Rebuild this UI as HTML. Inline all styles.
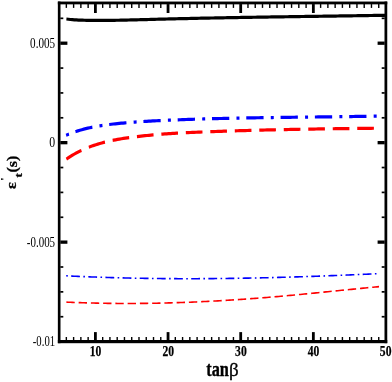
<!DOCTYPE html>
<html><head><meta charset="utf-8"><title>chart</title>
<style>html,body{margin:0;padding:0;background:#fff;}body{width:392px;height:382px;position:relative;overflow:hidden;font-family:"Liberation Serif",serif;}</style>
</head><body>
<svg width="392" height="382" viewBox="0 0 392 382" style="position:absolute;left:0;top:0;will-change:transform">
<line x1="66.34" y1="340.20" x2="66.34" y2="337.00" stroke="#000" stroke-width="1.4"/>
<line x1="66.34" y1="4.05" x2="66.34" y2="7.90" stroke="#000" stroke-width="1.4"/>
<line x1="73.61" y1="340.20" x2="73.61" y2="337.00" stroke="#000" stroke-width="1.4"/>
<line x1="73.61" y1="4.05" x2="73.61" y2="7.90" stroke="#000" stroke-width="1.4"/>
<line x1="80.87" y1="340.20" x2="80.87" y2="337.00" stroke="#000" stroke-width="1.4"/>
<line x1="80.87" y1="4.05" x2="80.87" y2="7.90" stroke="#000" stroke-width="1.4"/>
<line x1="88.14" y1="340.20" x2="88.14" y2="337.00" stroke="#000" stroke-width="1.4"/>
<line x1="88.14" y1="4.05" x2="88.14" y2="7.90" stroke="#000" stroke-width="1.4"/>
<line x1="95.40" y1="340.20" x2="95.40" y2="332.10" stroke="#000" stroke-width="2.8"/>
<line x1="95.40" y1="4.05" x2="95.40" y2="13.00" stroke="#000" stroke-width="2.8"/>
<line x1="102.67" y1="340.20" x2="102.67" y2="337.00" stroke="#000" stroke-width="1.4"/>
<line x1="102.67" y1="4.05" x2="102.67" y2="7.90" stroke="#000" stroke-width="1.4"/>
<line x1="109.93" y1="340.20" x2="109.93" y2="337.00" stroke="#000" stroke-width="1.4"/>
<line x1="109.93" y1="4.05" x2="109.93" y2="7.90" stroke="#000" stroke-width="1.4"/>
<line x1="117.20" y1="340.20" x2="117.20" y2="337.00" stroke="#000" stroke-width="1.4"/>
<line x1="117.20" y1="4.05" x2="117.20" y2="7.90" stroke="#000" stroke-width="1.4"/>
<line x1="124.46" y1="340.20" x2="124.46" y2="337.00" stroke="#000" stroke-width="1.4"/>
<line x1="124.46" y1="4.05" x2="124.46" y2="7.90" stroke="#000" stroke-width="1.4"/>
<line x1="131.72" y1="340.20" x2="131.72" y2="337.00" stroke="#000" stroke-width="1.4"/>
<line x1="131.72" y1="4.05" x2="131.72" y2="7.90" stroke="#000" stroke-width="1.4"/>
<line x1="138.99" y1="340.20" x2="138.99" y2="337.00" stroke="#000" stroke-width="1.4"/>
<line x1="138.99" y1="4.05" x2="138.99" y2="7.90" stroke="#000" stroke-width="1.4"/>
<line x1="146.25" y1="340.20" x2="146.25" y2="337.00" stroke="#000" stroke-width="1.4"/>
<line x1="146.25" y1="4.05" x2="146.25" y2="7.90" stroke="#000" stroke-width="1.4"/>
<line x1="153.52" y1="340.20" x2="153.52" y2="337.00" stroke="#000" stroke-width="1.4"/>
<line x1="153.52" y1="4.05" x2="153.52" y2="7.90" stroke="#000" stroke-width="1.4"/>
<line x1="160.78" y1="340.20" x2="160.78" y2="337.00" stroke="#000" stroke-width="1.4"/>
<line x1="160.78" y1="4.05" x2="160.78" y2="7.90" stroke="#000" stroke-width="1.4"/>
<line x1="168.05" y1="340.20" x2="168.05" y2="332.10" stroke="#000" stroke-width="2.8"/>
<line x1="168.05" y1="4.05" x2="168.05" y2="13.00" stroke="#000" stroke-width="2.8"/>
<line x1="175.31" y1="340.20" x2="175.31" y2="337.00" stroke="#000" stroke-width="1.4"/>
<line x1="175.31" y1="4.05" x2="175.31" y2="7.90" stroke="#000" stroke-width="1.4"/>
<line x1="182.58" y1="340.20" x2="182.58" y2="337.00" stroke="#000" stroke-width="1.4"/>
<line x1="182.58" y1="4.05" x2="182.58" y2="7.90" stroke="#000" stroke-width="1.4"/>
<line x1="189.84" y1="340.20" x2="189.84" y2="337.00" stroke="#000" stroke-width="1.4"/>
<line x1="189.84" y1="4.05" x2="189.84" y2="7.90" stroke="#000" stroke-width="1.4"/>
<line x1="197.11" y1="340.20" x2="197.11" y2="337.00" stroke="#000" stroke-width="1.4"/>
<line x1="197.11" y1="4.05" x2="197.11" y2="7.90" stroke="#000" stroke-width="1.4"/>
<line x1="204.38" y1="340.20" x2="204.38" y2="337.00" stroke="#000" stroke-width="1.4"/>
<line x1="204.38" y1="4.05" x2="204.38" y2="7.90" stroke="#000" stroke-width="1.4"/>
<line x1="211.64" y1="340.20" x2="211.64" y2="337.00" stroke="#000" stroke-width="1.4"/>
<line x1="211.64" y1="4.05" x2="211.64" y2="7.90" stroke="#000" stroke-width="1.4"/>
<line x1="218.91" y1="340.20" x2="218.91" y2="337.00" stroke="#000" stroke-width="1.4"/>
<line x1="218.91" y1="4.05" x2="218.91" y2="7.90" stroke="#000" stroke-width="1.4"/>
<line x1="226.17" y1="340.20" x2="226.17" y2="337.00" stroke="#000" stroke-width="1.4"/>
<line x1="226.17" y1="4.05" x2="226.17" y2="7.90" stroke="#000" stroke-width="1.4"/>
<line x1="233.44" y1="340.20" x2="233.44" y2="337.00" stroke="#000" stroke-width="1.4"/>
<line x1="233.44" y1="4.05" x2="233.44" y2="7.90" stroke="#000" stroke-width="1.4"/>
<line x1="240.70" y1="340.20" x2="240.70" y2="332.10" stroke="#000" stroke-width="2.8"/>
<line x1="240.70" y1="4.05" x2="240.70" y2="13.00" stroke="#000" stroke-width="2.8"/>
<line x1="247.97" y1="340.20" x2="247.97" y2="337.00" stroke="#000" stroke-width="1.4"/>
<line x1="247.97" y1="4.05" x2="247.97" y2="7.90" stroke="#000" stroke-width="1.4"/>
<line x1="255.23" y1="340.20" x2="255.23" y2="337.00" stroke="#000" stroke-width="1.4"/>
<line x1="255.23" y1="4.05" x2="255.23" y2="7.90" stroke="#000" stroke-width="1.4"/>
<line x1="262.50" y1="340.20" x2="262.50" y2="337.00" stroke="#000" stroke-width="1.4"/>
<line x1="262.50" y1="4.05" x2="262.50" y2="7.90" stroke="#000" stroke-width="1.4"/>
<line x1="269.76" y1="340.20" x2="269.76" y2="337.00" stroke="#000" stroke-width="1.4"/>
<line x1="269.76" y1="4.05" x2="269.76" y2="7.90" stroke="#000" stroke-width="1.4"/>
<line x1="277.02" y1="340.20" x2="277.02" y2="337.00" stroke="#000" stroke-width="1.4"/>
<line x1="277.02" y1="4.05" x2="277.02" y2="7.90" stroke="#000" stroke-width="1.4"/>
<line x1="284.29" y1="340.20" x2="284.29" y2="337.00" stroke="#000" stroke-width="1.4"/>
<line x1="284.29" y1="4.05" x2="284.29" y2="7.90" stroke="#000" stroke-width="1.4"/>
<line x1="291.56" y1="340.20" x2="291.56" y2="337.00" stroke="#000" stroke-width="1.4"/>
<line x1="291.56" y1="4.05" x2="291.56" y2="7.90" stroke="#000" stroke-width="1.4"/>
<line x1="298.82" y1="340.20" x2="298.82" y2="337.00" stroke="#000" stroke-width="1.4"/>
<line x1="298.82" y1="4.05" x2="298.82" y2="7.90" stroke="#000" stroke-width="1.4"/>
<line x1="306.09" y1="340.20" x2="306.09" y2="337.00" stroke="#000" stroke-width="1.4"/>
<line x1="306.09" y1="4.05" x2="306.09" y2="7.90" stroke="#000" stroke-width="1.4"/>
<line x1="313.35" y1="340.20" x2="313.35" y2="332.10" stroke="#000" stroke-width="2.8"/>
<line x1="313.35" y1="4.05" x2="313.35" y2="13.00" stroke="#000" stroke-width="2.8"/>
<line x1="320.62" y1="340.20" x2="320.62" y2="337.00" stroke="#000" stroke-width="1.4"/>
<line x1="320.62" y1="4.05" x2="320.62" y2="7.90" stroke="#000" stroke-width="1.4"/>
<line x1="327.88" y1="340.20" x2="327.88" y2="337.00" stroke="#000" stroke-width="1.4"/>
<line x1="327.88" y1="4.05" x2="327.88" y2="7.90" stroke="#000" stroke-width="1.4"/>
<line x1="335.14" y1="340.20" x2="335.14" y2="337.00" stroke="#000" stroke-width="1.4"/>
<line x1="335.14" y1="4.05" x2="335.14" y2="7.90" stroke="#000" stroke-width="1.4"/>
<line x1="342.41" y1="340.20" x2="342.41" y2="337.00" stroke="#000" stroke-width="1.4"/>
<line x1="342.41" y1="4.05" x2="342.41" y2="7.90" stroke="#000" stroke-width="1.4"/>
<line x1="349.67" y1="340.20" x2="349.67" y2="337.00" stroke="#000" stroke-width="1.4"/>
<line x1="349.67" y1="4.05" x2="349.67" y2="7.90" stroke="#000" stroke-width="1.4"/>
<line x1="356.94" y1="340.20" x2="356.94" y2="337.00" stroke="#000" stroke-width="1.4"/>
<line x1="356.94" y1="4.05" x2="356.94" y2="7.90" stroke="#000" stroke-width="1.4"/>
<line x1="364.21" y1="340.20" x2="364.21" y2="337.00" stroke="#000" stroke-width="1.4"/>
<line x1="364.21" y1="4.05" x2="364.21" y2="7.90" stroke="#000" stroke-width="1.4"/>
<line x1="371.47" y1="340.20" x2="371.47" y2="337.00" stroke="#000" stroke-width="1.4"/>
<line x1="371.47" y1="4.05" x2="371.47" y2="7.90" stroke="#000" stroke-width="1.4"/>
<line x1="378.74" y1="340.20" x2="378.74" y2="337.00" stroke="#000" stroke-width="1.4"/>
<line x1="378.74" y1="4.05" x2="378.74" y2="7.90" stroke="#000" stroke-width="1.4"/>
<line x1="60.30" y1="18.33" x2="63.30" y2="18.33" stroke="#000" stroke-width="1.7"/>
<line x1="384.70" y1="18.33" x2="381.70" y2="18.33" stroke="#000" stroke-width="1.7"/>
<line x1="60.30" y1="43.20" x2="67.40" y2="43.20" stroke="#000" stroke-width="3.3"/>
<line x1="384.70" y1="43.20" x2="377.60" y2="43.20" stroke="#000" stroke-width="3.3"/>
<line x1="60.30" y1="68.07" x2="63.30" y2="68.07" stroke="#000" stroke-width="1.7"/>
<line x1="384.70" y1="68.07" x2="381.70" y2="68.07" stroke="#000" stroke-width="1.7"/>
<line x1="60.30" y1="92.93" x2="63.30" y2="92.93" stroke="#000" stroke-width="1.7"/>
<line x1="384.70" y1="92.93" x2="381.70" y2="92.93" stroke="#000" stroke-width="1.7"/>
<line x1="60.30" y1="117.80" x2="63.30" y2="117.80" stroke="#000" stroke-width="1.7"/>
<line x1="384.70" y1="117.80" x2="381.70" y2="117.80" stroke="#000" stroke-width="1.7"/>
<line x1="60.30" y1="142.67" x2="67.40" y2="142.67" stroke="#000" stroke-width="3.3"/>
<line x1="384.70" y1="142.67" x2="377.60" y2="142.67" stroke="#000" stroke-width="3.3"/>
<line x1="60.30" y1="167.53" x2="63.30" y2="167.53" stroke="#000" stroke-width="1.7"/>
<line x1="384.70" y1="167.53" x2="381.70" y2="167.53" stroke="#000" stroke-width="1.7"/>
<line x1="60.30" y1="192.40" x2="63.30" y2="192.40" stroke="#000" stroke-width="1.7"/>
<line x1="384.70" y1="192.40" x2="381.70" y2="192.40" stroke="#000" stroke-width="1.7"/>
<line x1="60.30" y1="217.27" x2="63.30" y2="217.27" stroke="#000" stroke-width="1.7"/>
<line x1="384.70" y1="217.27" x2="381.70" y2="217.27" stroke="#000" stroke-width="1.7"/>
<line x1="60.30" y1="242.13" x2="67.40" y2="242.13" stroke="#000" stroke-width="3.3"/>
<line x1="384.70" y1="242.13" x2="377.60" y2="242.13" stroke="#000" stroke-width="3.3"/>
<line x1="60.30" y1="267.00" x2="63.30" y2="267.00" stroke="#000" stroke-width="1.7"/>
<line x1="384.70" y1="267.00" x2="381.70" y2="267.00" stroke="#000" stroke-width="1.7"/>
<line x1="60.30" y1="291.87" x2="63.30" y2="291.87" stroke="#000" stroke-width="1.7"/>
<line x1="384.70" y1="291.87" x2="381.70" y2="291.87" stroke="#000" stroke-width="1.7"/>
<line x1="60.30" y1="316.73" x2="63.30" y2="316.73" stroke="#000" stroke-width="1.7"/>
<line x1="384.70" y1="316.73" x2="381.70" y2="316.73" stroke="#000" stroke-width="1.7"/>
<rect x="57.85" y="1.55" width="2.65" height="341.65" fill="#000"/>
<rect x="384.5" y="1.55" width="2.75" height="341.65" fill="#000"/>
<rect x="57.85" y="1.55" width="329.40" height="2.80" fill="#000"/>
<rect x="57.85" y="340.0" width="329.40" height="3.20" fill="#000"/>
<g transform="scale(0.82,1)">
<path d="M80.98,19.03 L83.43,19.27 L85.88,19.48 L88.33,19.66 L90.78,19.81 L93.23,19.93 L95.68,20.03 L98.13,20.12 L100.59,20.19 L103.04,20.24 L105.49,20.29 L107.94,20.32 L110.39,20.35 L112.84,20.38 L115.29,20.40 L117.75,20.41 L120.20,20.42 L122.65,20.42 L125.10,20.42 L127.55,20.41 L130.00,20.40 L132.45,20.38 L134.90,20.36 L137.36,20.33 L139.81,20.30 L142.26,20.27 L144.71,20.24 L147.16,20.20 L149.61,20.16 L152.06,20.11 L154.51,20.07 L156.97,20.02 L159.42,19.97 L161.87,19.92 L164.32,19.87 L166.77,19.81 L169.22,19.76 L171.67,19.70 L174.12,19.65 L176.58,19.59 L179.03,19.53 L181.48,19.48 L183.93,19.42 L186.38,19.37 L188.83,19.31 L191.28,19.26 L193.74,19.21 L196.19,19.15 L198.64,19.10 L201.09,19.05 L203.54,19.00 L205.99,18.95 L208.44,18.90 L210.89,18.85 L213.35,18.80 L215.80,18.76 L218.25,18.71 L220.70,18.66 L223.15,18.62 L225.60,18.57 L228.05,18.53 L230.50,18.48 L232.96,18.44 L235.41,18.39 L237.86,18.35 L240.31,18.31 L242.76,18.26 L245.21,18.22 L247.66,18.18 L250.12,18.14 L252.57,18.10 L255.02,18.06 L257.47,18.02 L259.92,17.98 L262.37,17.94 L264.82,17.90 L267.27,17.86 L269.73,17.83 L272.18,17.79 L274.63,17.75 L277.08,17.71 L279.53,17.68 L281.98,17.64 L284.43,17.61 L286.88,17.57 L289.34,17.53 L291.79,17.50 L294.24,17.46 L296.69,17.43 L299.14,17.40 L301.59,17.36 L304.04,17.33 L306.49,17.30 L308.95,17.26 L311.40,17.23 L313.85,17.20 L316.30,17.16 L318.75,17.13 L321.20,17.10 L323.65,17.07 L326.11,17.04 L328.56,17.01 L331.01,16.97 L333.46,16.94 L335.91,16.91 L338.36,16.88 L340.81,16.85 L343.26,16.82 L345.72,16.79 L348.17,16.76 L350.62,16.73 L353.07,16.70 L355.52,16.67 L357.97,16.64 L360.42,16.61 L362.87,16.58 L365.33,16.55 L367.78,16.52 L370.23,16.49 L372.68,16.47 L375.13,16.44 L377.58,16.41 L380.03,16.38 L382.49,16.35 L384.94,16.32 L387.39,16.29 L389.84,16.26 L392.29,16.23 L394.74,16.20 L397.19,16.17 L399.64,16.15 L402.10,16.12 L404.55,16.09 L407.00,16.06 L409.45,16.03 L411.90,16.00 L414.35,15.97 L416.80,15.94 L419.25,15.91 L421.71,15.88 L424.16,15.85 L426.61,15.82 L429.06,15.79 L431.51,15.76 L433.96,15.73 L436.41,15.70 L438.86,15.67 L441.32,15.64 L443.77,15.61 L446.22,15.58 L448.67,15.54 L451.12,15.51 L453.57,15.48 L456.02,15.45 L458.48,15.42 L460.93,15.38 L463.38,15.35 L465.83,15.32 L468.28,15.29 L470.73,15.25" fill="none" stroke="#000" stroke-width="3.2"/>
<path d="M80.61,135.21 L83.01,134.39 L85.41,133.61 L87.81,132.87 L90.21,132.16 L92.61,131.49 L95.01,130.86 L97.41,130.26 L99.81,129.70 L102.21,129.16 L104.61,128.66 L107.01,128.18 L109.41,127.73 L111.81,127.31 L114.21,126.92 L116.61,126.54 L119.01,126.19 L121.41,125.86 L123.81,125.55 L126.21,125.25 L128.61,124.98 L131.01,124.71 L133.41,124.47 L135.81,124.23 L138.21,124.01 L140.61,123.80 L143.01,123.59 L145.41,123.40 L147.81,123.21 L150.21,123.03 L152.61,122.85 L155.01,122.68 L157.41,122.52 L159.81,122.36 L162.21,122.21 L164.61,122.06 L167.01,121.92 L169.41,121.79 L171.81,121.65 L174.21,121.53 L176.61,121.41 L179.01,121.29 L181.41,121.17 L183.81,121.06 L186.21,120.96 L188.61,120.85 L191.01,120.75 L193.41,120.66 L195.81,120.56 L198.21,120.47 L200.61,120.38 L203.01,120.30 L205.40,120.21 L207.80,120.13 L210.20,120.05 L212.60,119.97 L215.00,119.89 L217.40,119.81 L219.80,119.74 L222.20,119.66 L224.60,119.59 L227.00,119.52 L229.40,119.45 L231.80,119.38 L234.20,119.32 L236.60,119.25 L239.00,119.19 L241.40,119.13 L243.80,119.07 L246.20,119.01 L248.60,118.95 L251.00,118.89 L253.40,118.84 L255.80,118.78 L258.20,118.73 L260.60,118.67 L263.00,118.62 L265.40,118.57 L267.80,118.52 L270.20,118.48 L272.60,118.43 L275.00,118.38 L277.40,118.34 L279.80,118.29 L282.20,118.25 L284.60,118.21 L287.00,118.17 L289.40,118.13 L291.80,118.09 L294.20,118.05 L296.60,118.01 L299.00,117.97 L301.40,117.94 L303.80,117.90 L306.20,117.87 L308.60,117.83 L311.00,117.80 L313.40,117.77 L315.80,117.74 L318.20,117.70 L320.60,117.67 L323.00,117.64 L325.40,117.61 L327.80,117.58 L330.20,117.56 L332.60,117.53 L335.00,117.50 L337.40,117.47 L339.80,117.45 L342.20,117.42 L344.60,117.39 L347.00,117.37 L349.40,117.34 L351.80,117.32 L354.20,117.29 L356.60,117.27 L359.00,117.24 L361.40,117.22 L363.80,117.19 L366.20,117.17 L368.60,117.15 L371.00,117.12 L373.40,117.10 L375.80,117.07 L378.20,117.05 L380.60,117.03 L383.00,117.00 L385.40,116.98 L387.80,116.96 L390.20,116.93 L392.60,116.91 L395.00,116.89 L397.40,116.86 L399.80,116.84 L402.20,116.81 L404.60,116.79 L407.00,116.76 L409.40,116.74 L411.80,116.71 L414.20,116.69 L416.60,116.66 L419.00,116.64 L421.40,116.61 L423.80,116.58 L426.20,116.56 L428.60,116.53 L431.00,116.50 L433.40,116.47 L435.80,116.44 L438.20,116.41 L440.60,116.38 L443.00,116.35 L445.40,116.32 L447.80,116.29 L450.20,116.25 L452.60,116.22 L455.00,116.19 L457.40,116.15 L459.80,116.12 L462.20,116.08" fill="none" stroke="#0000ff" stroke-width="3.2" stroke-dasharray="3.66 8.29 21.10 8.78" stroke-dashoffset="0"/>
<path d="M80.98,159.07 L83.37,157.75 L85.77,156.48 L88.17,155.28 L90.57,154.13 L92.96,153.04 L95.36,152.00 L97.76,151.01 L100.16,150.07 L102.55,149.18 L104.95,148.33 L107.35,147.53 L109.75,146.77 L112.14,146.04 L114.54,145.36 L116.94,144.71 L119.34,144.09 L121.73,143.51 L124.13,142.95 L126.53,142.43 L128.93,141.93 L131.33,141.46 L133.72,141.01 L136.12,140.58 L138.52,140.18 L140.92,139.80 L143.31,139.44 L145.71,139.09 L148.11,138.76 L150.51,138.45 L152.90,138.15 L155.30,137.86 L157.70,137.58 L160.10,137.31 L162.49,137.05 L164.89,136.80 L167.29,136.56 L169.69,136.33 L172.08,136.10 L174.48,135.88 L176.88,135.67 L179.28,135.47 L181.68,135.28 L184.07,135.09 L186.47,134.91 L188.87,134.74 L191.27,134.57 L193.66,134.41 L196.06,134.25 L198.46,134.11 L200.86,133.96 L203.25,133.82 L205.65,133.69 L208.05,133.56 L210.45,133.44 L212.84,133.32 L215.24,133.21 L217.64,133.10 L220.04,132.99 L222.43,132.89 L224.83,132.79 L227.23,132.69 L229.63,132.60 L232.02,132.51 L234.42,132.42 L236.82,132.33 L239.22,132.25 L241.62,132.17 L244.01,132.09 L246.41,132.01 L248.81,131.93 L251.21,131.85 L253.60,131.78 L256.00,131.70 L258.40,131.63 L260.80,131.56 L263.19,131.49 L265.59,131.42 L267.99,131.35 L270.39,131.28 L272.78,131.21 L275.18,131.15 L277.58,131.08 L279.98,131.02 L282.37,130.95 L284.77,130.89 L287.17,130.83 L289.57,130.77 L291.97,130.71 L294.36,130.65 L296.76,130.59 L299.16,130.54 L301.56,130.48 L303.95,130.43 L306.35,130.37 L308.75,130.32 L311.15,130.27 L313.54,130.21 L315.94,130.16 L318.34,130.11 L320.74,130.06 L323.13,130.01 L325.53,129.97 L327.93,129.92 L330.33,129.87 L332.72,129.83 L335.12,129.78 L337.52,129.74 L339.92,129.70 L342.31,129.65 L344.71,129.61 L347.11,129.57 L349.51,129.53 L351.91,129.49 L354.30,129.45 L356.70,129.41 L359.10,129.37 L361.50,129.34 L363.89,129.30 L366.29,129.26 L368.69,129.23 L371.09,129.19 L373.48,129.16 L375.88,129.13 L378.28,129.09 L380.68,129.06 L383.07,129.03 L385.47,129.00 L387.87,128.97 L390.27,128.93 L392.66,128.90 L395.06,128.88 L397.46,128.85 L399.86,128.82 L402.25,128.79 L404.65,128.76 L407.05,128.73 L409.45,128.71 L411.85,128.68 L414.24,128.65 L416.64,128.63 L419.04,128.60 L421.44,128.58 L423.83,128.55 L426.23,128.53 L428.63,128.51 L431.03,128.48 L433.42,128.46 L435.82,128.44 L438.22,128.41 L440.62,128.39 L443.01,128.37 L445.41,128.35 L447.81,128.33 L450.21,128.31 L452.60,128.29 L455.00,128.26 L457.40,128.24 L459.80,128.22 L462.20,128.20" fill="none" stroke="#ff0000" stroke-width="3.2" stroke-dasharray="20.32 9.55" stroke-dashoffset="0"/>
<path d="M80.73,275.80 L83.12,275.90 L85.52,275.99 L87.91,276.09 L90.30,276.18 L92.70,276.27 L95.09,276.36 L97.48,276.44 L99.88,276.53 L102.27,276.61 L104.66,276.69 L107.05,276.77 L109.45,276.85 L111.84,276.93 L114.23,277.00 L116.63,277.07 L119.02,277.14 L121.41,277.21 L123.81,277.28 L126.20,277.35 L128.59,277.41 L130.98,277.47 L133.38,277.53 L135.77,277.59 L138.16,277.65 L140.56,277.71 L142.95,277.76 L145.34,277.81 L147.74,277.86 L150.13,277.91 L152.52,277.96 L154.91,278.01 L157.31,278.05 L159.70,278.09 L162.09,278.14 L164.49,278.18 L166.88,278.21 L169.27,278.25 L171.67,278.29 L174.06,278.32 L176.45,278.35 L178.84,278.38 L181.24,278.41 L183.63,278.44 L186.02,278.47 L188.42,278.49 L190.81,278.52 L193.20,278.54 L195.60,278.56 L197.99,278.58 L200.38,278.59 L202.77,278.61 L205.17,278.62 L207.56,278.64 L209.95,278.65 L212.35,278.66 L214.74,278.67 L217.13,278.68 L219.53,278.68 L221.92,278.69 L224.31,278.69 L226.71,278.69 L229.10,278.70 L231.49,278.70 L233.88,278.69 L236.28,278.69 L238.67,278.69 L241.06,278.68 L243.46,278.67 L245.85,278.67 L248.24,278.66 L250.64,278.64 L253.03,278.63 L255.42,278.62 L257.81,278.60 L260.21,278.59 L262.60,278.57 L264.99,278.55 L267.39,278.53 L269.78,278.51 L272.17,278.49 L274.57,278.47 L276.96,278.44 L279.35,278.42 L281.74,278.39 L284.14,278.36 L286.53,278.34 L288.92,278.31 L291.32,278.27 L293.71,278.24 L296.10,278.21 L298.50,278.17 L300.89,278.14 L303.28,278.10 L305.67,278.06 L308.07,278.02 L310.46,277.98 L312.85,277.94 L315.25,277.90 L317.64,277.86 L320.03,277.81 L322.43,277.77 L324.82,277.72 L327.21,277.68 L329.60,277.63 L332.00,277.58 L334.39,277.53 L336.78,277.48 L339.18,277.42 L341.57,277.37 L343.96,277.32 L346.36,277.26 L348.75,277.21 L351.14,277.15 L353.53,277.09 L355.93,277.03 L358.32,276.97 L360.71,276.91 L363.11,276.85 L365.50,276.79 L367.89,276.72 L370.29,276.66 L372.68,276.59 L375.07,276.53 L377.46,276.46 L379.86,276.39 L382.25,276.33 L384.64,276.26 L387.04,276.19 L389.43,276.11 L391.82,276.04 L394.22,275.97 L396.61,275.90 L399.00,275.82 L401.39,275.75 L403.79,275.67 L406.18,275.60 L408.57,275.52 L410.97,275.44 L413.36,275.36 L415.75,275.28 L418.15,275.20 L420.54,275.12 L422.93,275.04 L425.32,274.96 L427.72,274.87 L430.11,274.79 L432.50,274.71 L434.90,274.62 L437.29,274.54 L439.68,274.45 L442.08,274.36 L444.47,274.28 L446.86,274.19 L449.25,274.10 L451.65,274.01 L454.04,273.92 L456.43,273.83 L458.83,273.74 L461.22,273.65" fill="none" stroke="#0000ff" stroke-width="1.6" stroke-dasharray="1.95 4.09 10.73 4.15" stroke-dashoffset="0"/>
<path d="M80.98,302.13 L83.37,302.22 L85.77,302.30 L88.17,302.38 L90.57,302.46 L92.96,302.53 L95.36,302.61 L97.76,302.67 L100.16,302.74 L102.55,302.80 L104.95,302.86 L107.35,302.92 L109.75,302.97 L112.14,303.03 L114.54,303.07 L116.94,303.12 L119.34,303.16 L121.73,303.20 L124.13,303.24 L126.53,303.27 L128.93,303.30 L131.33,303.33 L133.72,303.36 L136.12,303.38 L138.52,303.40 L140.92,303.42 L143.31,303.43 L145.71,303.45 L148.11,303.46 L150.51,303.46 L152.90,303.47 L155.30,303.47 L157.70,303.47 L160.10,303.46 L162.49,303.46 L164.89,303.45 L167.29,303.44 L169.69,303.42 L172.08,303.40 L174.48,303.39 L176.88,303.36 L179.28,303.34 L181.68,303.31 L184.07,303.28 L186.47,303.25 L188.87,303.21 L191.27,303.18 L193.66,303.14 L196.06,303.10 L198.46,303.05 L200.86,303.00 L203.25,302.96 L205.65,302.90 L208.05,302.85 L210.45,302.79 L212.84,302.73 L215.24,302.67 L217.64,302.61 L220.04,302.54 L222.43,302.47 L224.83,302.40 L227.23,302.33 L229.63,302.26 L232.02,302.18 L234.42,302.10 L236.82,302.02 L239.22,301.93 L241.62,301.85 L244.01,301.76 L246.41,301.66 L248.81,301.57 L251.21,301.48 L253.60,301.38 L256.00,301.28 L258.40,301.18 L260.80,301.07 L263.19,300.96 L265.59,300.86 L267.99,300.74 L270.39,300.63 L272.78,300.51 L275.18,300.40 L277.58,300.28 L279.98,300.16 L282.37,300.03 L284.77,299.90 L287.17,299.78 L289.57,299.65 L291.97,299.51 L294.36,299.38 L296.76,299.24 L299.16,299.10 L301.56,298.96 L303.95,298.82 L306.35,298.67 L308.75,298.52 L311.15,298.37 L313.54,298.22 L315.94,298.07 L318.34,297.91 L320.74,297.75 L323.13,297.59 L325.53,297.43 L327.93,297.27 L330.33,297.10 L332.72,296.94 L335.12,296.77 L337.52,296.60 L339.92,296.43 L342.31,296.25 L344.71,296.08 L347.11,295.90 L349.51,295.72 L351.91,295.55 L354.30,295.36 L356.70,295.18 L359.10,295.00 L361.50,294.81 L363.89,294.63 L366.29,294.44 L368.69,294.25 L371.09,294.06 L373.48,293.87 L375.88,293.68 L378.28,293.48 L380.68,293.29 L383.07,293.09 L385.47,292.90 L387.87,292.70 L390.27,292.50 L392.66,292.31 L395.06,292.11 L397.46,291.91 L399.86,291.71 L402.25,291.51 L404.65,291.31 L407.05,291.11 L409.45,290.91 L411.85,290.72 L414.24,290.52 L416.64,290.32 L419.04,290.12 L421.44,289.92 L423.83,289.72 L426.23,289.52 L428.63,289.33 L431.03,289.13 L433.42,288.94 L435.82,288.74 L438.22,288.55 L440.62,288.35 L443.01,288.16 L445.41,287.97 L447.81,287.78 L450.21,287.59 L452.60,287.41 L455.00,287.22 L457.40,287.04 L459.80,286.85 L462.20,286.67" fill="none" stroke="#ff0000" stroke-width="1.6" stroke-dasharray="10.18 4.76" stroke-dashoffset="0"/>
</g>
<g font-family="Liberation Serif, serif" fill="#000">
<text x="95.60" y="356.15" font-size="14.3" text-anchor="middle" font-weight="bold" textLength="11.6" lengthAdjust="spacingAndGlyphs" stroke="#000" stroke-width="0.25">10</text>
<text x="168.25" y="356.15" font-size="14.3" text-anchor="middle" font-weight="bold" textLength="11.6" lengthAdjust="spacingAndGlyphs" stroke="#000" stroke-width="0.25">20</text>
<text x="240.90" y="356.15" font-size="14.3" text-anchor="middle" font-weight="bold" textLength="11.6" lengthAdjust="spacingAndGlyphs" stroke="#000" stroke-width="0.25">30</text>
<text x="313.55" y="356.15" font-size="14.3" text-anchor="middle" font-weight="bold" textLength="11.6" lengthAdjust="spacingAndGlyphs" stroke="#000" stroke-width="0.25">40</text>
<text x="385.65" y="356.15" font-size="14.3" text-anchor="middle" font-weight="bold" textLength="11.6" lengthAdjust="spacingAndGlyphs" stroke="#000" stroke-width="0.25">50</text>
<text x="55.1" y="47.95" font-size="14.0" text-anchor="end" textLength="25.0" lengthAdjust="spacingAndGlyphs">0.005</text>
<text x="55.1" y="147.42" font-size="14.0" text-anchor="end" textLength="5.9" lengthAdjust="spacingAndGlyphs">0</text>
<text x="55.1" y="246.88" font-size="14.0" text-anchor="end" textLength="28.3" lengthAdjust="spacingAndGlyphs">-0.005</text>
<text x="55.1" y="346.35" font-size="14.0" text-anchor="end" textLength="22.3" lengthAdjust="spacingAndGlyphs">-0.01</text>
<text x="206.3" y="375.9" font-size="20" text-anchor="start" font-weight="bold" textLength="22.6" lengthAdjust="spacingAndGlyphs" stroke="#000" stroke-width="0.35">tan</text>
<text x="229.1" y="376.1" font-size="19" text-anchor="start" stroke="#000" stroke-width="0.3">β</text>
<text transform="translate(15.8,189.0) rotate(-90) scale(1.0,0.93)" font-size="16" font-weight="bold" stroke="#000" stroke-width="0.3">ε</text>
<text transform="translate(8.2,181.3) rotate(-90) scale(1.4,1.0)" font-size="11" font-weight="bold">'</text>
<text transform="translate(21.8,177.4) rotate(-90) scale(1.15,0.92)" font-size="11.5" font-weight="bold" stroke="#000" stroke-width="0.3">t</text>
<text transform="translate(16.5,172.6) rotate(-90) scale(1.0,0.92)" font-size="16" font-weight="bold" stroke="#000" stroke-width="0.3">(s)</text>
</g>
</svg>
</body></html>
